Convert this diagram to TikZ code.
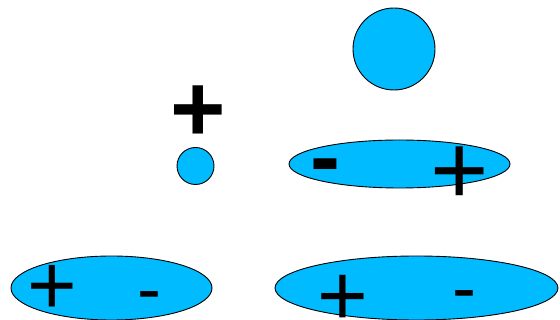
\documentclass[tikz,border=0pt]{standalone}
\usepackage{fontspec}
\setmainfont{Liberation Sans}
\usetikzlibrary{shapes.geometric}
\definecolor{skyfill}{RGB}{0,187,255}
\tikzset{
  blob/.style={ellipse, draw=black, line width=0.9pt, fill=skyfill, inner sep=0pt, outer sep=0pt},
  sym/.style={inner sep=0pt, outer sep=0pt, text=black},
}
\newcommand{\fs}[1]{\fontsize{#1}{#1}\selectfont}
\begin{document}
\begin{tikzpicture}[x=1pt, y=-1pt]
\useasboundingbox (0,0) rectangle (560,320);
% circles
\node[blob, minimum width=82pt, minimum height=82pt] (bigc) at (394,49) {};
\node[blob, minimum width=37pt, minimum height=37pt] (smallc) at (195.5,166) {};
% ellipses
\node[blob, minimum width=221pt, minimum height=48pt] (midell) at (399.5,164) {};
\node[blob, minimum width=201pt, minimum height=64pt] (leftell) at (111.5,288) {};
\node[blob, minimum width=283pt, minimum height=64pt] (rightell) at (416.5,288) {};
% signs
\node[sym, font=\bfseries\fs{95}] (topplus) at (198.5,114) {+};
\node[sym, font=\bfseries\fs{90}] (midminus) at (325.5,173) {-};
\node[sym, font=\fs{100}] (midplus) at (460,176) {+};
\node[sym, font=\fs{85}] (lplus) at (52,290) {+};
\node[sym, font=\fs{72}] (lminus) at (149.5,303) {-};
\node[sym, font=\fs{87}] (rplus) at (343,300) {+};
\node[sym, font=\fs{72}] (rminus) at (464.5,302) {-};
\end{tikzpicture}
\end{document}
